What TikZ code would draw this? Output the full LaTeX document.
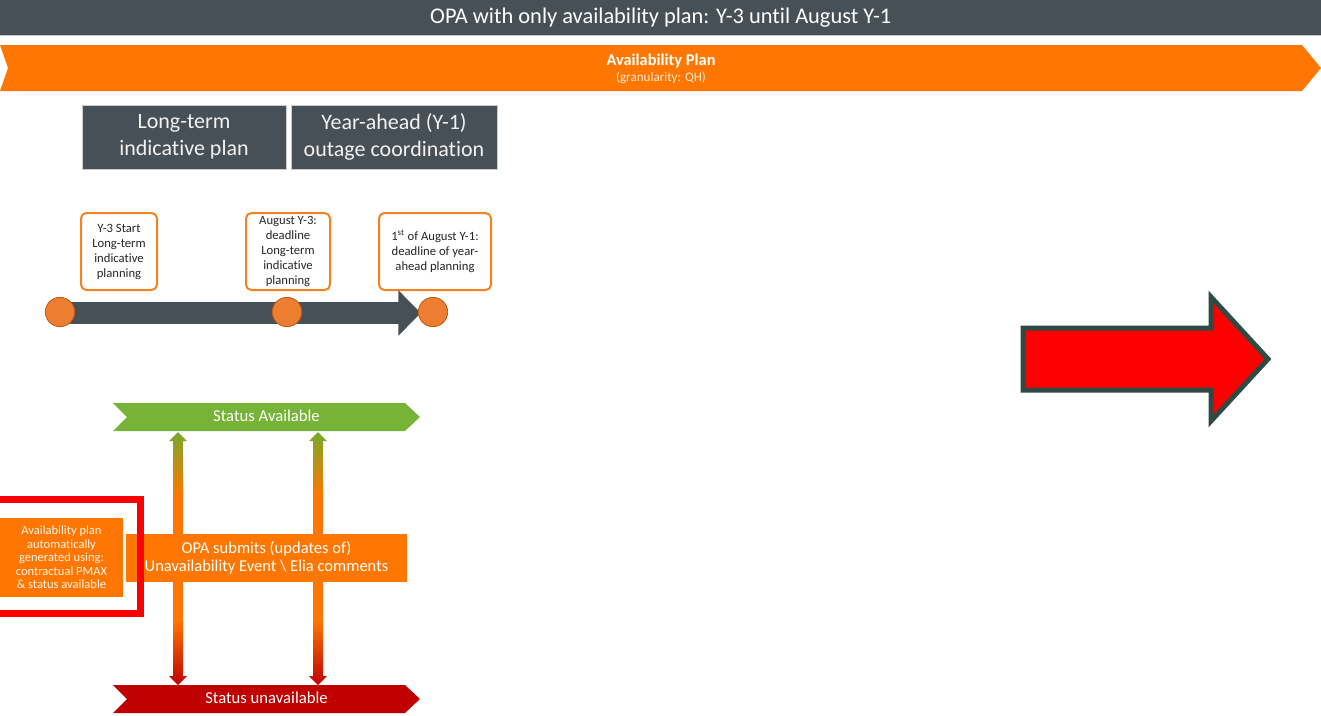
\documentclass[tikz,border=0pt]{standalone}
\usepackage{fontspec}
\setmainfont{Carlito}[Ligatures=NoCommon]
\usetikzlibrary{arrows.meta}
\definecolor{slate}{HTML}{475057}
\definecolor{eliaorange}{HTML}{FF7700}
\definecolor{dotorange}{HTML}{ED7D31}
\definecolor{dotedge}{HTML}{C55A11}
\definecolor{calloutedge}{HTML}{F58220}
\definecolor{okgreen}{HTML}{77B337}
\definecolor{kored}{HTML}{C00000}
\definecolor{alertred}{HTML}{FF0000}
\definecolor{arrowedge}{HTML}{2E4A45}
\tikzset{
  headbox/.style={fill=slate, draw=gray!40, line width=0.5pt, inner sep=0pt, text=white!90!gray,
    align=center, font=\fontsize{16.5}{20.25}\selectfont, minimum height=48pt},
  callout/.style={draw=calloutedge, line width=1.5pt, fill=white, rounded corners=4pt, inner sep=0pt,
    align=center, text=black!85, font=\fontsize{9.5}{11.25}\selectfont, minimum height=57.75pt},
  milestone/.style={circle, fill=dotorange, draw=dotedge, line width=0.6pt, minimum size=22pt, inner sep=0pt},
  chevtext/.style={text=white, font=\fontsize{12.5}{14}\selectfont, inner sep=0pt},
  orangebox/.style={fill=eliaorange, inner sep=0pt, text=white, align=center},
}
\begin{document}
\begin{tikzpicture}[x=0.75pt,y=-0.75pt]
\useasboundingbox (0,0) rectangle (1321,715);

% title bar
\node[fill=slate, minimum width=990.75pt, minimum height=26.25pt, inner sep=0pt, anchor=north west,
  text=white, font=\fontsize{16.8}{18}\selectfont] (title) at (0,0)
  {OPA with only availability plan: Y-3 until August Y-1};
\draw[gray!45, line width=1.2pt] (0,35.5) -- (1321,35.5);

% availability plan chevron
\fill[eliaorange] (0,45) -- (1302,45) -- (1321,68) -- (1302,91) -- (0,91) -- (8,68) -- cycle;
\node[text=white, font=\fontsize{12.3}{13}\selectfont\bfseries, inner sep=0pt] (plan) at (661,61) {Availability Plan};
\node[text=white!85!eliaorange, font=\fontsize{9.8}{11}\selectfont, inner sep=0pt] (gran) at (661,78) {(granularity: QH)};

% header boxes
\node[headbox, minimum width=153pt] (lt) at (184,137) {Long-term\\indicative plan};
\node[headbox, minimum width=154.5pt] (ya) at (394,137) {Year-ahead (Y-1)\\outage coordination};

% callouts
\node[callout, minimum width=57pt] (m1) at (119,251.5) {Y-3 Start\\Long-term\\indicative\\planning};
\node[callout, minimum width=63pt] (m2) at (288,251.5) {August Y-3:\\deadline\\Long-term\\indicative\\planning};
\node[callout, minimum width=84pt] (m3) at (435,251.5) {1\textsuperscript{st} of August Y-1:\\deadline of year-\\ahead planning};

% timeline
\coordinate (tlstart) at (60,313);
\coordinate (tltip) at (421,313);
\draw[slate, line width=16.5pt, -{Triangle[length=17pt, width=33pt]}] (tlstart) -- (tltip);
\node[milestone] (c1) at (60,312) {};
\node[milestone] (c2) at (287,312) {};
\node[milestone] (c3) at (433,312) {};

% status chevrons
\fill[okgreen] (113,403) -- (405,403) -- (420,417) -- (405,431) -- (113,431) -- (127,417) -- cycle;
\node[chevtext] (avail) at (266.5,416) {Status Available};
\fill[kored] (113,685) -- (405,685) -- (420,699) -- (405,713) -- (113,713) -- (127,699) -- cycle;
\node[chevtext] (unavail) at (266.5,698) {Status unavailable};

% double arrows (green -> orange -> red)
\foreach \ax in {178,318}{
  \shade[top color=okgreen!80!olive, bottom color=eliaorange]
    (\ax,432) -- (\ax+9,441) -- (\ax+5,441) -- (\ax+5,496) -- (\ax-5,496) -- (\ax-5,441) -- (\ax-9,441) -- cycle;
  \fill[eliaorange] (\ax-5,495) rectangle (\ax+5,621);
  \shade[top color=eliaorange, bottom color=kored]
    (\ax-5,620) -- (\ax+5,620) -- (\ax+5,676) -- (\ax+9,676) -- (\ax,685) -- (\ax-9,676) -- (\ax-5,676) -- cycle;
}

% OPA box
\node[orangebox, minimum width=210.75pt, minimum height=36pt, font=\fontsize{12.4}{13.5}\selectfont]
  (opa) at (266.5,558) {OPA submits (updates of)\\Unavailability Event \textbackslash{} Elia comments};

% left box
\node[orangebox, minimum width=92.25pt, minimum height=59.25pt, font=\fontsize{9.4}{10.1}\selectfont, text=white!92!orange]
  (auto) at (61.5,557.5) {Availability plan\\automatically\\generated using:\\contractual PMAX\\\& status available};

% red frame
\draw[alertred, line width=5.25pt] (-10,499.5) rectangle (140.5,613.5);

% big red arrow
\draw[arrowedge, line width=3.75pt, fill=alertred, line join=miter]
  (1023,328) -- (1211,328) -- (1211,297) -- (1268,359) -- (1211,421) -- (1211,390) -- (1023,390) -- cycle;
\end{tikzpicture}
\end{document}
